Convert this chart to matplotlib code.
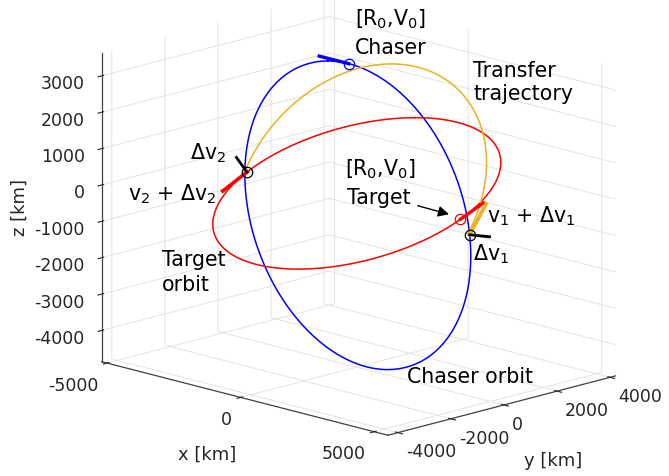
import numpy as np
import matplotlib.pyplot as plt
from mpl_toolkits.mplot3d import proj3d

plt.rcParams['font.family'] = 'DejaVu Sans'
plt.rcParams['axes.unicode_minus'] = False
plt.rcParams['grid.color'] = '#e3e3e3'
plt.rcParams['grid.linewidth'] = 0.7

# axis limits and ticks [km]
x_lim = [-5200, 5510]
y_lim = [-4380, 4200]
z_lim = [-4860, 3640]
x_ticks = [-5000, 0, 5000]
y_ticks = [-4000, -2000, 0, 2000, 4000]
z_ticks = [-4000, -3000, -2000, -1000, 0, 1000, 2000, 3000]

# orbits: centre + two conjugate semi-axes [km]
chaser_c = np.array([139.7, -102.4, -638.8])
chaser_a = np.array([-811.0, -311.1, 4149.5])
chaser_b = np.array([4170.1, -93.1, 807.8])

target_c = np.array([14.5, -14.5, -76.7])
target_a = np.array([-1314.8, 3521.8, 1164.9])
target_b = np.array([3708.0, 1229.7, 469.5])

transfer_c = np.array([180.7, -68.5, -89.7])
transfer_a = np.array([-1164.1, 2361.2, 2946.5])
transfer_b = np.array([3992.6, 608.1, 641.1])

# anomalies of the marked points [deg]
chaser_t0 = 10.8      # chaser initial state
target_t0 = 110.2     # target initial state
chaser_t1 = 97.3      # departure (dv1)
transfer_t1 = 107.3
transfer_t2 = -79.6
target_t2 = -73.6     # arrival (dv2)

# velocity arrow lengths [rad]
s_chaser0 = 0.263
s_target0 = 0.231
s_v1 = 0.2155
s_v1dv1 = 0.247
s_v2 = 0.26
s_v2dv2 = 0.261

yellow = '#EDB120'


def orbit(c, a, b, t_deg):
    t = np.radians(np.atleast_1d(t_deg))
    return c[:, None] + a[:, None] * np.cos(t) + b[:, None] * np.sin(t)


def vel(a, b, t_deg):
    # direction of motion (anomaly decreasing)
    t = np.radians(t_deg)
    return a * np.sin(t) - b * np.cos(t)


W, H = 669, 476
fig = plt.figure(figsize=(W / 100, H / 100), dpi=100)
ax = fig.add_axes([-0.1, -0.35, 1.2, 1.7], projection='3d', proj_type='ortho')

t_full = np.linspace(0, 360, 721)
ax.plot(*orbit(chaser_c, chaser_a, chaser_b, t_full), color='b', lw=1.1)
ax.plot(*orbit(target_c, target_a, target_b, t_full), color='r', lw=1.1)
ax.plot(*orbit(transfer_c, transfer_a, transfer_b,
               np.linspace(transfer_t1, transfer_t2, 300)), color=yellow, lw=1.1)

p_c0 = orbit(chaser_c, chaser_a, chaser_b, chaser_t0)[:, 0]
p_t0 = orbit(target_c, target_a, target_b, target_t0)[:, 0]
p1 = orbit(chaser_c, chaser_a, chaser_b, chaser_t1)[:, 0]
p2 = orbit(target_c, target_a, target_b, target_t2)[:, 0]

v_c0 = vel(chaser_a, chaser_b, chaser_t0) * s_chaser0
v_t0 = vel(target_a, target_b, target_t0) * s_target0
v1 = vel(chaser_a, chaser_b, chaser_t1) * s_v1
v1dv1 = vel(transfer_a, transfer_b, transfer_t1) * s_v1dv1
v2 = vel(transfer_a, transfer_b, transfer_t2) * s_v2
v2dv2 = vel(target_a, target_b, target_t2) * s_v2dv2


def seg(p, v, **kw):
    ax.plot([p[0], p[0] + v[0]], [p[1], p[1] + v[1]], [p[2], p[2] + v[2]], **kw)


seg(p_c0, v_c0, color='b', lw=2.4)
seg(p_t0, v_t0, color='r', lw=2.4)
seg(p1, v1dv1, color=yellow, lw=2.6)
seg(p1, v1dv1 - v1, color='k', lw=2.0)
seg(p2, v2dv2, color='r', lw=2.6)
seg(p2, v2dv2 - v2, color='k', lw=2.0)

ax.plot(*p_c0[:, None], 'o', mfc='none', mec='b', ms=7.5, mew=0.9)
ax.plot(*p_t0[:, None], 'o', mfc='none', mec='r', ms=7.5, mew=0.9)
ax.plot(*p1[:, None], 'o', mfc='none', mec='k', ms=7.5, mew=0.9)
ax.plot(*p2[:, None], 'o', mfc='none', mec='k', ms=7.5, mew=0.9)

ax.set_xlim(x_lim)
ax.set_ylim(y_lim)
ax.set_zlim(z_lim)
ax.set_xticks(x_ticks)
ax.set_yticks(y_ticks)
ax.set_zticks(z_ticks)
ax.zaxis.set_ticks_position('lower')
ax.tick_params(labelsize=12.5, colors='0.15')
ax.xaxis.set_tick_params(pad=3)
ax.yaxis.set_tick_params(pad=0.5)
ax.zaxis.set_tick_params(pad=2)
for axis in (ax.xaxis, ax.yaxis, ax.zaxis):
    axis.set_pane_color((1, 1, 1, 0))
    axis.line.set_color('0.25')
    axis.line.set_linewidth(0.9)
ax.view_init(elev=15, azim=-45.2)

# scale/shift the box so its bottom corners sit where the reference has them
aspect = (np.ptp(x_lim), np.ptp(y_lim), np.ptp(z_lim))
left = (x_lim[0], y_lim[0], z_lim[0])
right = (x_lim[1], y_lim[1], z_lim[0])
left_px = np.array([101.7, H - 361.7])
right_px = np.array([615.5, H - 371.8])


def to_px(p):
    xs, ys, _ = proj3d.proj_transform(p[0], p[1], p[2], ax.get_proj())
    return ax.transData.transform((xs, ys))


ax.set_box_aspect(aspect, zoom=1)
fig.canvas.draw()
zoom = np.linalg.norm(right_px - left_px) / np.linalg.norm(to_px(right) - to_px(left))
ax.set_box_aspect(aspect, zoom=zoom)
fig.canvas.draw()
shift = left_px - to_px(left)
pos = ax.get_position(original=True)
ax.set_position([pos.x0 + shift[0] / W, pos.y0 + shift[1] / H, pos.width, pos.height])

# MATLAB-like tick label anchoring
for t in ax.xaxis.get_ticklabels():
    t.set_ha('right')
for t in ax.yaxis.get_ticklabels():
    t.set_ha('left')
for t in ax.zaxis.get_ticklabels():
    t.set_ha('right')


def fxy(x, y):
    return x / W, 1 - y / H


# axis titles, horizontal as in the reference
fig.text(*fxy(207, 455), 'x [km]', fontsize=13, color='0.15', ha='center', va='center')
fig.text(*fxy(553, 461), 'y [km]', fontsize=13, color='0.15', ha='center', va='center')
fig.text(*fxy(20, 208), 'z [km]', fontsize=13, color='0.15', ha='center', va='center',
         rotation=90)

labels = [
    ('[R$_0$,V$_0$]', 355, 25), ('Chaser', 355, 54),
    ('Transfer', 473, 77), ('trajectory', 473, 100),
    ('[R$_0$,V$_0$]', 345, 175), ('Target', 347, 204),
    ('v$_1$ + $\\Delta$v$_1$', 487, 222), ('$\\Delta$v$_1$', 473, 260),
    ('$\\Delta$v$_2$', 190, 159), ('v$_2$ + $\\Delta$v$_2$', 128, 200),
    ('Target', 162, 266), ('orbit', 162, 291),
    ('Chaser orbit', 407, 383),
]
for s, x, y in labels:
    fig.text(*fxy(x, y), s, fontsize=14.8, va='baseline', ha='left')

ax.annotate('', xy=fxy(451.7, 215), xytext=fxy(415, 205),
            xycoords='figure fraction', textcoords='figure fraction',
            arrowprops=dict(arrowstyle='-|>', color='k', lw=1.0, mutation_scale=16))

fig.savefig('out.png', dpi=100)
